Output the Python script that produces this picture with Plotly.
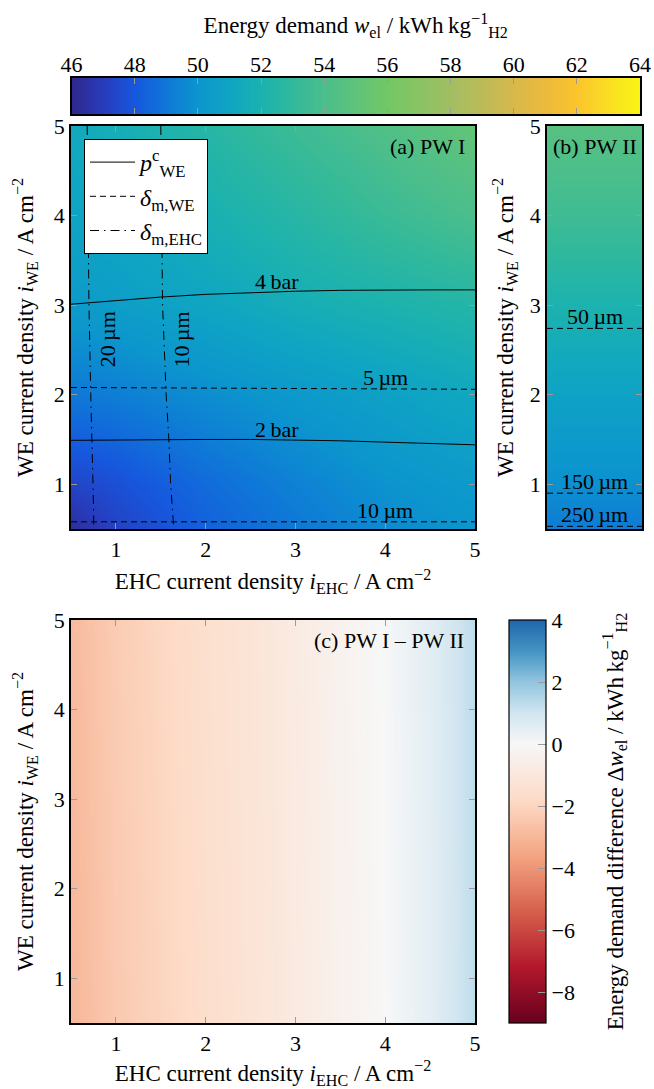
import numpy as np
import plotly.graph_objects as go

# ---------------- data ----------------
# (a) PW I : energy demand w_el over EHC current density (x) and WE current density (y)
ehc_a = [0.5, 1, 2, 3, 4, 5]
we_a = [0.5, 1, 2, 3, 4, 5]
w_el_a = [
    [46.3, 47.2, 48.3, 49.0, 49.6, 50.0],
    [47.3, 47.7, 48.6, 49.3, 49.9, 50.3],
    [49.0, 49.2, 49.7, 50.2, 50.7, 51.2],
    [50.3, 50.5, 51.0, 51.6, 52.0, 52.4],
    [50.9, 51.1, 51.8, 52.5, 53.3, 54.0],
    [51.3, 51.6, 52.5, 53.4, 54.3, 55.2],
]
# (b) PW II : energy demand only depends on WE current density
we_b = [0.5, 1, 2, 3, 4, 5]
w_el_b = [49.1, 49.8, 50.8, 52.0, 53.5, 54.6]
# (c) PW I - PW II difference
ehc_c = [0.5, 1, 1.5, 2, 2.5, 3, 3.5, 4, 4.5, 5]
we_c = [0.5, 5]
dw_el_c = [
    [-3.0, -2.4, -2.0, -1.6, -1.25, -0.85, -0.4, 0.0, 0.5, 1.3],
    [-2.9, -2.3, -1.9, -1.5, -1.2, -0.8, -0.35, 0.05, 0.55, 1.3],
]

# contour lines in (a)
p4_x = [0.5, 1, 1.5, 2, 2.5, 3, 3.5, 4, 4.5, 5]
p4_y = [3.01, 3.05, 3.09, 3.12, 3.14, 3.155, 3.165, 3.17, 3.17, 3.17]
p2_x = [0.5, 1, 1.5, 2, 2.5, 3, 3.5, 4, 4.5, 5]
p2_y = [1.49, 1.495, 1.50, 1.50, 1.50, 1.495, 1.485, 1.47, 1.455, 1.44]
dwe5_x = [0.5, 2, 3.5, 5]
dwe5_y = [2.08, 2.075, 2.067, 2.06]
dwe10_x = [0.5, 5]
dwe10_y = [0.58, 0.58]
dehc_y = [5, 4, 3, 2, 1.5, 1, 0.5]
dehc20_x = [0.68, 0.69, 0.70, 0.72, 0.735, 0.745, 0.755]
dehc10_x = [1.50, 1.51, 1.52, 1.56, 1.59, 1.61, 1.645]
# membrane thickness lines in (b)
dwe_b_levels = [2.74, 0.90, 0.53]
dwe_b_labels = ["50\u2009µm", "150\u2009µm", "250\u2009µm"]

cbar_a_ticks = [46, 48, 50, 52, 54, 56, 58, 60, 62, 64]
cbar_c_ticks = [-8, -6, -4, -2, 0, 2, 4]

# ---------------- styling ----------------
FONT = "Liberation Serif"
W, H = 654, 1089


def fx(px):
    return px / W


def fy(py):
    return 1 - py / H


parula_like = [
    [0.000, "rgb(48,40,140)"], [0.056, "rgb(40,60,190)"], [0.111, "rgb(22,88,222)"],
    [0.167, "rgb(15,120,215)"], [0.222, "rgb(12,150,205)"], [0.278, "rgb(15,165,195)"],
    [0.333, "rgb(28,178,175)"], [0.389, "rgb(50,185,155)"], [0.444, "rgb(75,190,140)"],
    [0.500, "rgb(95,195,122)"], [0.556, "rgb(115,199,102)"], [0.611, "rgb(138,195,100)"],
    [0.667, "rgb(162,190,98)"], [0.722, "rgb(188,187,88)"], [0.778, "rgb(215,185,75)"],
    [0.833, "rgb(236,186,60)"], [0.889, "rgb(250,197,45)"], [0.944, "rgb(250,222,35)"],
    [1.000, "rgb(248,246,20)"],
]
zmin_c, zmax_c = -9, 4
rdbu_vals = [-9, -7.2, -5.4, -3.6, -1.8, 0, 1, 2, 3, 4]
rdbu_cols = ["rgb(103,0,31)", "rgb(178,24,43)", "rgb(214,96,77)", "rgb(244,165,130)",
             "rgb(253,219,199)", "rgb(247,247,247)", "rgb(209,229,240)", "rgb(146,197,222)",
             "rgb(67,147,195)", "rgb(33,102,172)"]
rdbu_two_slope = [[(v - zmin_c) / (zmax_c - zmin_c), c] for v, c in zip(rdbu_vals, rdbu_cols)]

TICK = 22
TITLE = 23
ANN = 22
LEG = 24

# transparent padding after the colour-bar labels pushes the colour-bar title to the right
pad = "<span style='color:rgba(0,0,0,0)'>00</span>"
cbar_c_text = [str(t).replace("-", "−") + pad for t in cbar_c_ticks]

fig = go.Figure()

# heatmaps
fig.add_trace(go.Heatmap(x=ehc_a, y=we_a, z=w_el_a, zmin=46, zmax=64, colorscale=parula_like,
                         zsmooth="best", showscale=False, xaxis="x", yaxis="y", hoverinfo="skip"))
fig.add_trace(go.Heatmap(x=[0, 1], y=we_b, z=[[v, v] for v in w_el_b], zmin=46, zmax=64,
                         colorscale=parula_like, zsmooth="best", showscale=False,
                         xaxis="x2", yaxis="y2", hoverinfo="skip"))
fig.add_trace(go.Heatmap(
    x=ehc_c, y=we_c, z=dw_el_c, zmin=zmin_c, zmax=zmax_c, colorscale=rdbu_two_slope,
    zsmooth="best", xaxis="x3", yaxis="y3", hoverinfo="skip",
    colorbar=dict(
        x=fx(509), xanchor="left", xpad=0, y=fy((620 + 1023) / 2), yanchor="middle", ypad=0,
        len=403 / H, lenmode="fraction", thickness=37, thicknessmode="pixels",
        outlinewidth=1.2, outlinecolor="black",
        tickvals=cbar_c_ticks, ticktext=cbar_c_text,
        ticks="inside", ticklen=8, tickcolor="#9a9a9a", tickwidth=1,
        tickfont=dict(family=FONT, size=TICK, color="black"),
        title=dict(text="Energy demand difference Δ<i>w</i><sub>el</sub> / kWh\u2009kg<sup>−1</sup><sub>H2</sub>",
                   side="right", font=dict(family=FONT, size=TITLE, color="black")),
    )))
# colour bar strip for (a)/(b) drawn as its own axis so the labels sit on top
cb_x = np.linspace(cbar_a_ticks[0], cbar_a_ticks[-1], 181)
fig.add_trace(go.Heatmap(x=cb_x, y=[0, 1], z=[cb_x, cb_x], zmin=46, zmax=64, colorscale=parula_like,
                         zsmooth="best", showscale=False, xaxis="x4", yaxis="y4", hoverinfo="skip"))

line_style = dict(color="black", width=1)
dash_style = dict(color="black", width=1, dash="6px,4px")
dashdot_style = dict(color="black", width=1, dash="9px,5px,1.5px,5px")

fig.add_trace(go.Scatter(x=p4_x, y=p4_y, mode="lines", line=line_style, xaxis="x", yaxis="y",
                         name="<i>p</i><sup>c</sup><sub>WE</sub>", legendgroup="p", showlegend=True))
fig.add_trace(go.Scatter(x=p2_x, y=p2_y, mode="lines", line=line_style, xaxis="x", yaxis="y",
                         legendgroup="p", showlegend=False))
fig.add_trace(go.Scatter(x=dwe5_x, y=dwe5_y, mode="lines", line=dash_style, xaxis="x", yaxis="y",
                         name="<i>δ</i><sub>m,WE</sub>", legendgroup="dwe", showlegend=True))
fig.add_trace(go.Scatter(x=dwe10_x, y=dwe10_y, mode="lines", line=dash_style, xaxis="x", yaxis="y",
                         legendgroup="dwe", showlegend=False))
fig.add_trace(go.Scatter(x=dehc20_x, y=dehc_y, mode="lines", line=dashdot_style, xaxis="x", yaxis="y",
                         name="<i>δ</i><sub>m,EHC</sub>", legendgroup="dehc", showlegend=True))
fig.add_trace(go.Scatter(x=dehc10_x, y=dehc_y, mode="lines", line=dashdot_style, xaxis="x", yaxis="y",
                         legendgroup="dehc", showlegend=False))
for lv in dwe_b_levels:
    fig.add_trace(go.Scatter(x=[0, 1], y=[lv, lv], mode="lines", line=dash_style, xaxis="x2", yaxis="y2",
                             showlegend=False))

# ---------------- annotations ----------------
ann = []
afont = dict(family=FONT, size=ANN, color="black")


def lab(text, x, y, xref="x", yref="y", **kw):
    d = dict(text=text, x=x, y=y, xref=xref, yref=yref, showarrow=False, font=afont)
    d.update(kw)
    ann.append(d)


lab("4\u2009bar", 2.8, float(np.interp(2.8, p4_x, p4_y)), yanchor="bottom", yshift=-4)
lab("2\u2009bar", 2.8, float(np.interp(2.8, p2_x, p2_y)), yanchor="bottom", yshift=-4)
lab("5\u2009µm", 4.0, float(np.interp(4.0, dwe5_x, dwe5_y)), yanchor="bottom", yshift=-3)
lab("10\u2009µm", 4.0, float(np.interp(4.0, dwe10_x, dwe10_y)), yanchor="bottom", yshift=-3)
lab("20\u2009µm", float(np.interp(2.62, dehc_y[::-1], dehc20_x[::-1])), 2.62, xanchor="left", xshift=3,
    textangle=-90)
lab("10\u2009µm", float(np.interp(2.62, dehc_y[::-1], dehc10_x[::-1])), 2.62, xanchor="left", xshift=3,
    textangle=-90)
for lv, t in zip(dwe_b_levels, dwe_b_labels):
    lab(t, 0.5, lv, xref="x2", yref="y2", yanchor="bottom", yshift=-3)

lab("(a) PW I", 0.98, 0.985, xref="x domain", yref="y domain", xanchor="right", yanchor="top")
lab("(b) PW II", 0.5, 0.985, xref="x2 domain", yref="y2 domain", xanchor="center", yanchor="top")
lab("(c) PW I – PW II", 0.977, 0.985, xref="x3 domain", yref="y3 domain", xanchor="right", yanchor="top")

# ---------------- axes ----------------
tickfont = dict(family=FONT, size=TICK, color="black")
titlefont = dict(family=FONT, size=TITLE, color="black")
base = dict(showline=True, linecolor="black", linewidth=1.5, mirror="ticks", ticks="inside",
            ticklen=6, tickcolor="#9a9a9a", tickwidth=1, showgrid=False, zeroline=False,
            tickfont=tickfont, automargin=False)

xdom = [fx(71), fx(475)]
ydom_ab = [fy(529), fy(126)]
ydom_c = [fy(1023), fy(620)]
xtitle = "EHC current density <i>i</i><sub>EHC</sub> / A\u2009cm<sup>−2</sup>"
ytitle = "WE current density <i>i</i><sub>WE</sub> / A\u2009cm<sup>−2</sup>"

fig.update_layout(
    width=W, height=H, margin=dict(l=0, r=0, t=0, b=0, autoexpand=False),
    paper_bgcolor="white", plot_bgcolor="white",
    font=dict(family=FONT, size=TICK, color="black"),
    annotations=ann,
    legend=dict(x=fx(84), y=fy(139), xanchor="left", yanchor="top", bgcolor="white",
                bordercolor="black", borderwidth=1, font=dict(family=FONT, size=LEG, color="black"),
                tracegroupgap=0, itemwidth=45),
    xaxis=dict(domain=xdom, anchor="y", range=[0.5, 5], tickvals=[1, 2, 3, 4, 5],
               title=dict(text=xtitle, font=titlefont, standoff=12), **base),
    yaxis=dict(domain=ydom_ab, anchor="x", range=[0.5, 5], tickvals=[1, 2, 3, 4, 5],
               title=dict(text=ytitle, font=titlefont, standoff=14), **base),
    xaxis2=dict(domain=[fx(547), fx(642)], anchor="y2", range=[0, 1], showline=True, linecolor="black",
                linewidth=1.5, mirror=True, ticks="", showticklabels=False, showgrid=False, zeroline=False,
                automargin=False),
    yaxis2=dict(domain=ydom_ab, anchor="x2", range=[0.5, 5], tickvals=[1, 2, 3, 4, 5],
                title=dict(text=ytitle, font=titlefont, standoff=10), **base),
    xaxis3=dict(domain=xdom, anchor="y3", range=[0.5, 5], tickvals=[1, 2, 3, 4, 5],
                title=dict(text=xtitle, font=titlefont, standoff=12), **base),
    yaxis3=dict(domain=ydom_c, anchor="x3", range=[0.5, 5], tickvals=[1, 2, 3, 4, 5],
                title=dict(text=ytitle, font=titlefont, standoff=14), **base),
    xaxis4=dict(domain=[fx(71.5), fx(640)], anchor="y4", range=[46, 64], side="top",
                tickvals=cbar_a_ticks, ticklabelstandoff=-5,
                title=dict(text="Energy demand <i>w</i><sub>el</sub> / kWh\u2009kg<sup>−1</sup><sub>H2</sub>",
                           font=titlefont, standoff=12), **base),
    yaxis4=dict(domain=[fy(114), fy(78)], anchor="x4", range=[0, 1], showline=True, linecolor="black",
                linewidth=1.5, mirror=True, ticks="", showticklabels=False, showgrid=False, zeroline=False,
                automargin=False),
)

fig.write_html("out.html", post_script="document.body.style.margin='0px';",
               config={"displayModeBar": False})
